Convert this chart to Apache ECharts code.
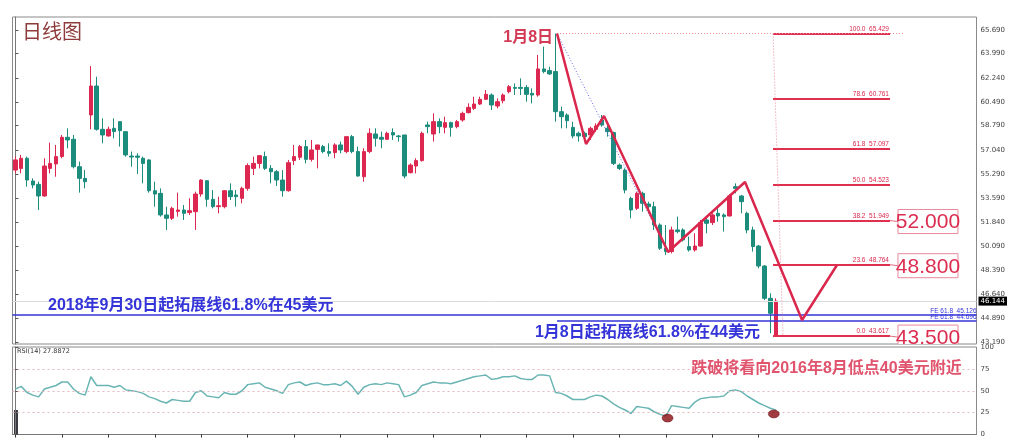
<!DOCTYPE html>
<html><head><meta charset="utf-8">
<script src="https://cdn.jsdelivr.net/npm/echarts@6/dist/echarts.min.js"></script>
<style>html,body{margin:0;padding:0;background:#fff}#c{width:1024px;height:446px}</style>
</head><body><div id="c"></div>
<script>
// ---- data ----
// candles: [open, close, low, high]
const ohlc = [
[55.59,56.32,55.35,56.56],[55.71,56.44,55.35,56.68],[56.44,54.87,54.39,56.56],[54.80,54.51,54.27,54.99],[54.56,53.72,52.71,54.75],
[53.72,55.88,53.67,56.44],[55.71,56.07,55.35,57.57],[56.03,56.56,55.11,57.40],[56.56,57.95,56.44,58.12],[57.95,57.76,57.16,58.60],
[57.81,55.83,55.71,58.12],[55.83,54.99,53.96,56.20],[54.99,54.75,54.27,55.59],[59.56,61.65,58.53,63.09],[61.65,58.53,58.43,62.32],
[58.53,58.12,57.52,59.32],[58.05,58.53,58.00,58.72],[58.60,58.36,57.88,59.32],[59.08,58.43,57.28,59.08],[58.36,56.68,56.56,58.36],
[56.60,56.53,55.83,56.92],[56.60,56.51,55.31,56.80],[56.44,56.07,54.63,56.56],[56.32,54.10,53.96,56.36],[54.10,53.86,52.95,54.75],
[53.91,52.35,52.23,54.27],[52.35,52.11,51.27,52.95],[52.11,52.83,51.99,52.95],[52.61,52.71,52.23,53.96],[52.71,52.47,51.99,53.07],
[52.52,52.66,52.35,53.55],[52.59,53.86,51.27,54.03],[53.86,54.87,53.67,54.92],[54.82,53.48,52.95,54.87],[53.48,52.95,52.83,54.15],
[52.95,53.02,52.47,53.67],[52.95,54.10,52.83,54.15],[54.10,53.67,53.43,54.63],[53.79,53.67,52.95,54.15],[53.55,54.27,53.19,54.39],
[54.27,55.91,54.10,56.07],[55.71,56.07,55.23,56.56],[56.07,56.63,55.71,56.68],[56.56,55.71,55.59,56.92],[55.71,55.47,54.63,55.95],
[55.47,54.87,54.44,55.59],[54.87,54.10,53.67,55.59],[54.10,56.12,54.03,56.32],[56.27,56.56,55.95,57.40],[56.51,57.28,56.32,57.40],
[57.28,56.36,56.07,57.76],[56.36,57.04,56.20,57.76],[57.08,57.40,55.71,57.40],[57.28,56.92,56.80,57.40],[56.92,56.80,56.56,57.52],
[56.85,57.40,56.44,57.52],[57.40,57.04,56.80,57.64],[56.92,58.00,56.80,58.00],[58.00,56.92,56.80,58.12],[56.92,55.16,55.11,57.28],
[55.11,56.92,54.75,57.16],[56.92,58.24,56.80,58.60],[58.19,57.88,57.28,58.60],[57.95,57.81,57.16,58.36],[57.81,58.24,57.76,58.36],
[58.29,58.12,57.76,58.60],[58.05,58.00,57.64,58.12],[58.12,55.16,54.99,58.12],[55.40,55.95,55.35,56.07],[55.88,56.27,55.35,56.44],
[56.27,58.24,56.20,58.36],[58.84,58.72,58.24,59.08],[58.19,59.08,57.64,59.68],[59.08,58.72,58.24,59.32],[58.67,59.01,58.24,59.44],
[59.01,58.67,58.00,59.08],[58.72,59.08,58.60,59.20],[59.20,59.68,59.08,59.80],[59.73,60.11,59.68,60.40],[60.04,60.35,59.92,60.88],
[60.35,60.69,60.28,60.88],[60.69,61.05,60.64,61.36],[61.00,60.28,59.92,61.12],[60.21,60.52,60.04,60.76],[60.59,61.00,60.40,61.12],
[61.24,61.60,61.12,61.72],[61.55,61.48,61.00,61.84],[61.55,61.48,61.00,62.20],[61.55,61.05,60.52,61.72],[61.12,61.00,60.40,61.48],
[61.00,62.88,60.88,63.89],[62.88,62.69,62.57,64.49],[62.76,62.52,62.45,63.05],[62.69,59.80,59.08,65.43],[59.80,59.44,58.60,60.16],
[59.56,59.15,58.60,59.68],[58.67,58.05,57.88,59.08],[58.24,58.05,57.64,58.36],[58.24,58.00,57.76,58.36],[58.12,58.60,57.76,58.72],
[58.53,58.77,58.36,58.96],[59.20,58.84,58.72,59.56],[58.60,58.36,58.00,58.84],[58.29,56.07,55.95,58.36],[55.95,55.71,55.59,56.07],
[55.59,54.15,53.91,55.71],[53.55,52.71,52.11,53.67],[52.83,53.91,52.71,54.03],[53.91,53.19,52.59,54.03],[53.14,52.95,52.47,53.31],
[52.95,51.63,51.27,53.31],[51.63,49.95,49.83,51.75],[49.95,49.71,49.46,51.63],[49.71,51.27,49.58,51.51],[51.27,51.15,51.03,52.23],
[51.27,50.55,50.43,51.39],[50.07,49.83,49.71,50.79],[49.83,50.11,49.71,51.03],[50.11,51.80,50.07,51.99],[51.99,51.75,51.03,52.23],
[51.80,52.35,51.63,52.47],[52.47,52.28,51.87,52.83],[52.35,52.23,51.15,52.47],[52.28,53.72,52.23,53.86],[54.39,54.27,53.91,54.63],
[53.72,53.31,52.47,53.79],[52.47,51.27,51.03,52.59],[51.27,50.07,49.71,51.51],[50.11,48.67,48.50,50.19],[48.67,46.34,46.22,48.74],
[46.34,45.26,43.82,46.70],[43.62,46.14,43.60,46.34]
];
const rsi = [
52,55,48,45,43,52,54,56,60,60, 52,47,45,66,56,56,56,54,56,51,
50,49,47,43,41,38,36,40,39,38, 38,48,50,44,43,42,48,46,46,50,
57,58,59,54,52,50,47,57,59,60, 56,58,59,57,57,58,56,61,55,46,
54,57,58,57,59,58,57,43,45,48, 56,58,60,59,59,58,60,62,64,66,
67,68,63,64,66,66,67,64,63,63, 68,68,67,48,47,44,40,40,40,43,
45,44,40,35,31,28,24,32,31,30, 26,23,21,33,32,31,30,37,41,42,
43,43,44,50,51,49,44,40,36,33, 30,27.8872
];
const slotCount = 166;
const categories = Array.from({length: slotCount}, (_, i) => 'B' + (i + 1));
const priceTicks = [43.19,44.89,46.64,48.39,50.09,51.84,53.59,55.29,57.04,58.79,60.49,62.24,63.99,65.69];
const rsiTicks = [0,25,50,75,100];
const bidPrice = 46.144;
const fibLevels = ['0.0','23.6','38.2','50.0','61.8','78.6','100.0'];
const fibPrices = [43.617,48.764,51.949,54.523,57.097,60.761,65.429];
const fibSpan = [130.46, 150.6];
const fibDiag = [[130.46,65.429],[132.18,43.617]];
const fibTopDotted = [93.27, 152.85];
const zigzag = [[93.27,65.43],[98.26,57.47],[101.36,59.49],[112.38,49.68],[125.64,54.73],[135.46,44.78],[141.48,48.74]];
const feHelper = [[93.27,65.43],[112.38,49.68],[125.64,54.73]];
const feLabels = ['FE 61.8  45.126','FE 61.8  44.696'];
const feValues = [45.126, 44.696];
const feStarts = [-0.5, 93.27];
const targetTexts = ['52.000','48.800','43.500'];
const targetFibIdx = [2,1,0];
const noteTexts = ['1月8日','2018年9月30日起拓展线61.8%在45美元','1月8日起拓展线61.8%在44美元'];
const noteAnchors = [[92.58,65.11],[5.61,45.79],[89.47,43.84]];
const rsiNoteText = '跌破将看向2016年8月低点40美元附近';
const rsiNoteAnchor = [[116.4,75]];
const rsiMarks = [[112.3,18.8],[130.6,23.5]];

// ---- chart ----
const PMIN = 43.046, PMAX = 66.627;
const RED = '#dc2850', TEAL = '#1c8c7c', BLUE = '#3434d8';
const CJK = "'Liberation Sans','Noto Sans CJK SC'";
const chart = echarts.init(document.getElementById('c'));

const fibMarks = fibPrices.map((p, i) => [
  {coord:[fibSpan[0], p], lineStyle:{color:'#e0304f', width:2, type:'solid'},
   label:{show:true, position:'insideEndTop', distance:1, formatter: fibLevels[i] + '  ' + p.toFixed(3), fontSize:6.5, color:'#d9274d'}},
  {coord:[fibSpan[1], p]}
]);
const feMarks = feValues.map((v, i) => [
  {coord:[feStarts[i], v], lineStyle:{color:BLUE, width:1.6, type:'solid'},
   label:{show:true, position:'insideEndTop', distance:0, formatter: feLabels[i], fontSize:6.5, color:BLUE}},
  {coord:[165.5, v]}
]);
const dottedMarks = [
  [{coord:[fibTopDotted[0], fibPrices[6]], lineStyle:{color:'#ea8a9c', width:1, type:[1,2]}, label:{show:false}}, {coord:[fibTopDotted[1], fibPrices[6]]}],
  [{coord:fibDiag[0], lineStyle:{color:'#ea8a9c', width:1, type:[1,2]}, label:{show:false}}, {coord:fibDiag[1]}]
];

chart.setOption({
  animation:false,
  backgroundColor:'#fff',
  grid:[
    {left:12.5, right:47.5, top:17, height:327, show:true, borderColor:'#8a8a8a', borderWidth:1},
    {left:12.5, right:47.5, top:347, height:87.5, show:true, borderColor:'#8a8a8a', borderWidth:1}
  ],
  xAxis:[
    {type:'category', gridIndex:0, data:categories, boundaryGap:true, show:false},
    {type:'value', gridIndex:0, min:-0.5, max:165.5, show:false},
    {type:'category', gridIndex:1, data:categories, boundaryGap:true,
     axisLine:{show:true, lineStyle:{color:'#777'}},
     axisTick:{show:true, alignWithLabel:true, length:3, interval:(i) => i % 8 === 0 && i < ohlc.length, lineStyle:{color:'#333'}},
     axisLabel:{show:false}, splitLine:{show:false}},
    {type:'value', gridIndex:1, min:-0.5, max:165.5, show:false}
  ],
  yAxis:[
    {type:'value', gridIndex:0, position:'right', min:PMIN, max:PMAX,
     axisLine:{show:true, lineStyle:{color:'#777'}},
     axisTick:{show:true, length:3, customValues:priceTicks, lineStyle:{color:'#555'}},
     axisLabel:{show:true, customValues:priceTicks, formatter:(v) => Number(v).toFixed(3), fontSize:7, color:'#444', margin:4, fontFamily:'DejaVu Sans'},
     splitLine:{show:false}},
    {type:'value', gridIndex:1, position:'right', min:0, max:100,
     axisLine:{show:true, lineStyle:{color:'#777'}},
     axisTick:{show:true, length:3, customValues:rsiTicks, lineStyle:{color:'#555'}},
     axisLabel:{show:true, customValues:rsiTicks, fontSize:7, color:'#444', margin:4, fontFamily:'DejaVu Sans'},
     splitLine:{show:false}}
  ],
  graphic:[
    {type:'text', left:22, top:21, style:{text:'日线图', fill:'#8e3b3b', font:"20px 'Noto Sans CJK SC'"}},
    {type:'text', left:17, top:348, style:{text:'RSI(14) 27.8872', fill:'#333', font:"6.5px 'DejaVu Sans'"}},
    {type:'rect', left:14, top:410, shape:{width:4, height:24}, style:{fill:'#3a3a42'}}
  ],
  series:[
    {type:'candlestick', xAxisIndex:0, yAxisIndex:0, data:ohlc, barWidth:4,
     itemStyle:{color:RED, color0:TEAL, borderColor:RED, borderColor0:TEAL, borderWidth:1},
     markLine:{silent:true, symbol:['none','none'], animation:false,
       data:[{yAxis:bidPrice, lineStyle:{color:'#dcdcdc', width:1, type:'solid'},
              label:{show:true, position:'end', distance:2, formatter:bidPrice.toFixed(3), backgroundColor:'#000', color:'#fff', fontSize:7, padding:[1,2], fontFamily:'DejaVu Sans'}}]}
    },
    {type:'line', name:'fe-helper', xAxisIndex:1, yAxisIndex:0, data:feHelper, symbol:'none', z:3,
     lineStyle:{color:'#6a6af0', width:1, type:[1,2]}},
    {type:'line', name:'zigzag', xAxisIndex:1, yAxisIndex:0, data:zigzag, symbol:'none', z:6,
     lineStyle:{color:'#d9274d', width:2.5},
     markLine:{silent:true, symbol:['none','none'], animation:false, data:[...feMarks, ...fibMarks, ...dottedMarks]}
    },
    {type:'custom', name:'targets', xAxisIndex:1, yAxisIndex:0, clip:true, z:7,
     data:targetFibIdx.map((k) => [fibSpan[1], fibPrices[k]]),
     renderItem:(params, api) => {
       const p = api.coord([api.value(0), api.value(1)]);
       const gap = 8, w = 60, h = 24;
       return {type:'group', children:[
         {type:'line', shape:{x1:p[0], y1:p[1], x2:p[0] + gap, y2:p[1] + 1}, style:{stroke:'#e06a80', lineWidth:1}},
         {type:'rect', shape:{x:p[0] + gap, y:p[1] - h / 2 + 1, width:w, height:h}, style:{fill:'#fff', stroke:'#e88a9c', lineWidth:1}},
         {type:'text', style:{x:p[0] + gap + w / 2, y:p[1] + 2, text:targetTexts[params.dataIndex], align:'center', verticalAlign:'middle',
           fill:'#dc2d50', font:"21px 'Liberation Sans'"}}
       ]};
     }},
    {type:'custom', name:'notes', xAxisIndex:1, yAxisIndex:0, clip:false, z:8,
     data:noteAnchors,
     renderItem:(params, api) => {
       const p = api.coord([api.value(0), api.value(1)]);
       const i = params.dataIndex;
       const isRed = i === 0;
       return {type:'text', style:{x:p[0], y:p[1], text:noteTexts[i], align:isRed ? 'right' : 'left', verticalAlign:'middle',
         fill:isRed ? '#d23a55' : BLUE, font:"bold 16px " + CJK}};
     }},
    {type:'line', name:'rsi', xAxisIndex:2, yAxisIndex:1, data:rsi, symbol:'none',
     lineStyle:{color:'#6ab5b3', width:1.5},
     markLine:{silent:true, symbol:['none','none'], animation:false, label:{show:false},
       lineStyle:{color:'#e4b8c0', width:1, type:[2,3]},
       data:[{yAxis:75},{yAxis:50},{yAxis:25}]}},
    {type:'scatter', name:'rsi-marks', xAxisIndex:3, yAxisIndex:1, data:rsiMarks, symbol:'circle', symbolSize:[11,8], z:5,
     itemStyle:{color:'#8a0d12', borderColor:'#5a0008', borderWidth:0.5}},
    {type:'custom', name:'rsi-note', xAxisIndex:3, yAxisIndex:1, clip:false, z:8,
     data:rsiNoteAnchor,
     renderItem:(params, api) => {
       const p = api.coord([api.value(0), api.value(1)]);
       return {type:'text', style:{x:p[0], y:p[1], text:rsiNoteText, align:'left', verticalAlign:'middle',
         fill:'#e0546e', font:"bold 16px " + CJK}};
     }}
  ]
});
</script></body></html>
